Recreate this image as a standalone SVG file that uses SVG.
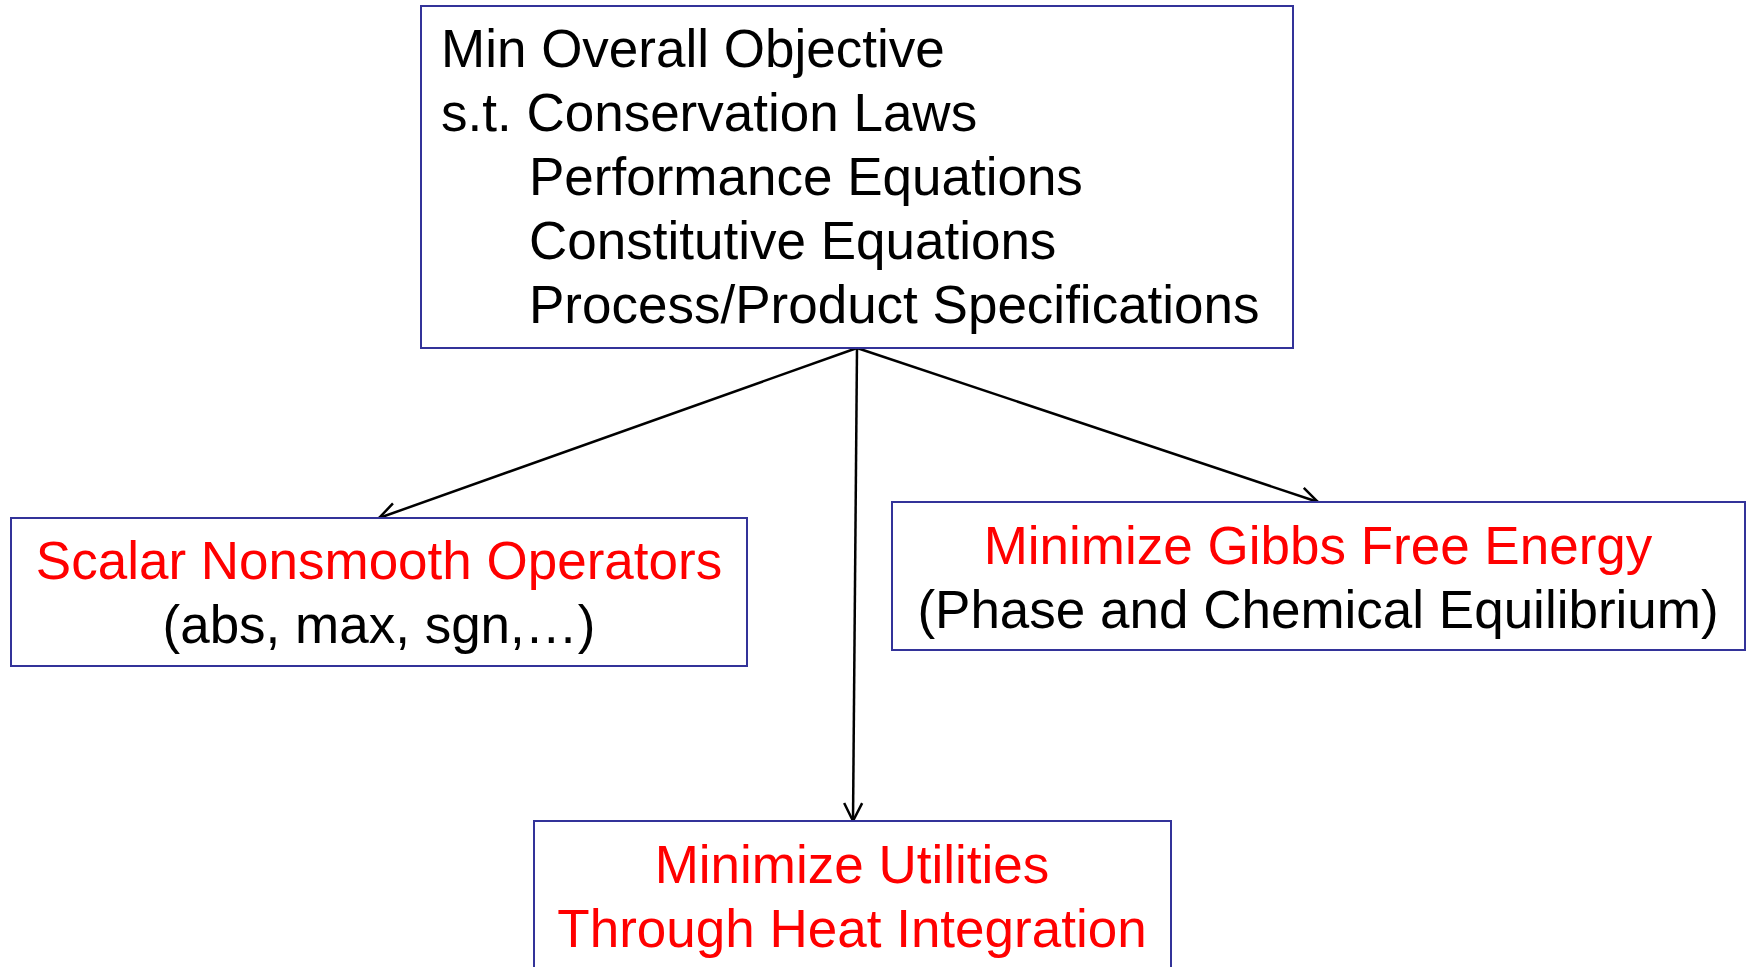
<svg xmlns="http://www.w3.org/2000/svg" width="1750" height="967" viewBox="0 0 1750 967">
  <style>
    .box { fill: #ffffff; stroke: #333399; stroke-width: 2; }
    .t { font-family: "Liberation Sans", Arial, sans-serif; font-size: 53px; fill: #000000; }
    .red { fill: #ff0000; }
    .mid { text-anchor: middle; }
    .conn { stroke: #000000; stroke-width: 2.5; fill: none; marker-end: url(#head); }
  </style>
  <defs>
    <!-- open V arrowhead, tip at the end of the line -->
    <marker id="head" viewBox="0 0 24 24" refX="21" refY="12" markerWidth="24" markerHeight="24" markerUnits="userSpaceOnUse" orient="auto">
      <path d="M3,3 L21,12 L3,21" fill="none" stroke="#000000" stroke-width="2.5"/>
    </marker>
  </defs>
  <rect width="1750" height="967" fill="#ffffff"/>

  <g id="connectors">
    <line class="conn" x1="857" y1="348" x2="379" y2="518"/>
    <line class="conn" x1="857" y1="348" x2="1318" y2="502"/>
    <line class="conn" x1="857" y1="348" x2="853" y2="821"/>
  </g>

  <g id="problem">
    <rect class="box" x="421" y="6" width="872" height="342"/>
    <text class="t" x="441" y="67">Min Overall Objective</text>
    <text class="t" x="441" y="131">s.t. Conservation Laws</text>
    <text class="t" x="529" y="195">Performance Equations</text>
    <text class="t" x="529" y="259">Constitutive Equations</text>
    <text class="t" x="529" y="323">Process/Product Specifications</text>
  </g>

  <g id="nonsmooth">
    <rect class="box" x="11" y="518" width="736" height="148"/>
    <text class="t red mid" x="379" y="579">Scalar Nonsmooth Operators</text>
    <text class="t mid" x="379" y="643">(abs, max, sgn,…)</text>
  </g>

  <g id="gibbs">
    <rect class="box" x="892" y="502" width="853" height="148"/>
    <text class="t red mid" x="1318" y="564">Minimize Gibbs Free Energy</text>
    <text class="t mid" x="1318" y="628">(Phase and Chemical Equilibrium)</text>
  </g>

  <g id="utilities">
    <rect class="box" x="534" y="821" width="637" height="170"/>
    <text class="t red mid" x="852" y="883">Minimize Utilities</text>
    <text class="t red mid" x="852" y="947">Through Heat Integration</text>
  </g>
</svg>
